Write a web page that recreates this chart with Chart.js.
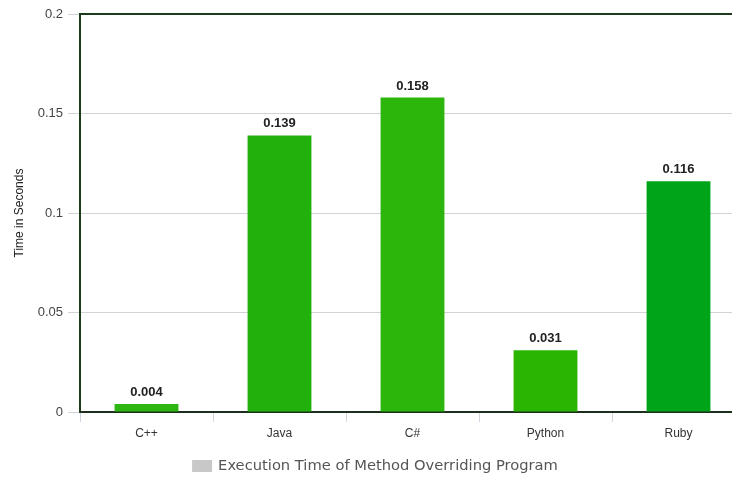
<!DOCTYPE html>
<html>
<head>
<meta charset="utf-8">
<script src="https://cdn.jsdelivr.net/npm/chart.js@4/dist/chart.umd.min.js"></script>
<style>
  html, body { margin: 0; padding: 0; background: #fff; overflow: hidden; }
  .wrap { width: 745px; height: 479px; }
</style>
</head>
<body>
<div class="wrap"><canvas class="time-chart"></canvas></div>
<script>
const languages = ["C++", "Java", "C#", "Python", "Ruby"];
const seconds = [0.004, 0.139, 0.158, 0.031, 0.116];
const barColors = ["#2db511", "#22b00c", "#2cb50a", "#2ab502", "#00a418"];
const yTicks = [0, 0.05, 0.1, 0.15, 0.2];
const seriesName = "Execution Time of Method Overriding Program";

const ctx = document.querySelector(".time-chart");

// value labels above bars, dark top frame and the legend row
const barLabels = {
  id: "barLabels",
  afterDatasetsDraw(chart) {
    const c = chart.ctx;
    const meta = chart.getDatasetMeta(0);
    c.save();
    c.font = "bold 13px 'Liberation Sans', Arial, sans-serif";
    c.fillStyle = "#222";
    c.textAlign = "center";
    c.textBaseline = "bottom";
    meta.data.forEach((bar, i) => {
      c.fillText(seconds[i].toFixed(3), bar.x, bar.y - 5);
    });
    const a = chart.chartArea;
    c.strokeStyle = "#1d3a1d";
    c.lineWidth = 2;
    c.beginPath();
    c.moveTo(a.left, a.top);
    c.lineTo(a.right + 10, a.top);
    c.stroke();

    // legend
    c.font = "14.7px 'DejaVu Sans', sans-serif";
    const tw = c.measureText(seriesName).width;
    const total = 20 + 6 + tw;
    const x0 = 375 - total / 2;
    const yc = a.bottom + 54;
    c.fillStyle = "#c8c8c8";
    c.fillRect(x0, yc - 6, 20, 12);
    c.fillStyle = "#555";
    c.textAlign = "left";
    c.textBaseline = "middle";
    c.fillText(seriesName, x0 + 26, yc);
    c.restore();
  },
};

new Chart(ctx, {
  type: "bar",
  data: {
    labels: languages,
    datasets: [
      {
        label: seriesName,
        data: seconds,
        backgroundColor: barColors,
        barPercentage: 0.48,
        categoryPercentage: 1,
      },
    ],
  },
  options: {
    responsive: true,
    maintainAspectRatio: false,
    animation: false,
    layout: { padding: { top: 14, left: 0, right: 0, bottom: 35 } },
    scales: {
      x: {
        afterFit: (s) => { s.height = 32; },
        grid: {
          offset: true,
          drawOnChartArea: false,
          drawTicks: true,
          tickLength: 10,
          color: "#cfd6dd",
        },
        border: { display: true, color: "#1d2e1d", width: 2 },
        ticks: {
          color: "#333",
          padding: 4,
          font: { family: "'Liberation Sans', Arial, sans-serif", size: 12 },
        },
      },
      y: {
        min: 0,
        max: 0.2,
        afterFit: (s) => { s.width = 80; },
        afterBuildTicks: (s) => { s.ticks = yTicks.map((v) => ({ value: v })); },
        grid: {
          color: "#cfd4d8",
          tickLength: 12,
        },
        border: { display: true, color: "#1d3a1d", width: 2 },
        title: {
          display: true,
          text: "Time in Seconds",
          color: "#222",
          padding: { top: 12, bottom: 0 },
          font: { family: "'Liberation Sans', Arial, sans-serif", size: 12 },
        },
        ticks: {
          color: "#444",
          padding: 5,
          callback: (v) => String(+v.toFixed(2)),
          font: { family: "'Liberation Sans', Arial, sans-serif", size: 13 },
        },
      },
    },
    plugins: {
      legend: { display: false },
      tooltip: { enabled: false },
    },
  },
  plugins: [barLabels],
});
</script>
</body>
</html>
